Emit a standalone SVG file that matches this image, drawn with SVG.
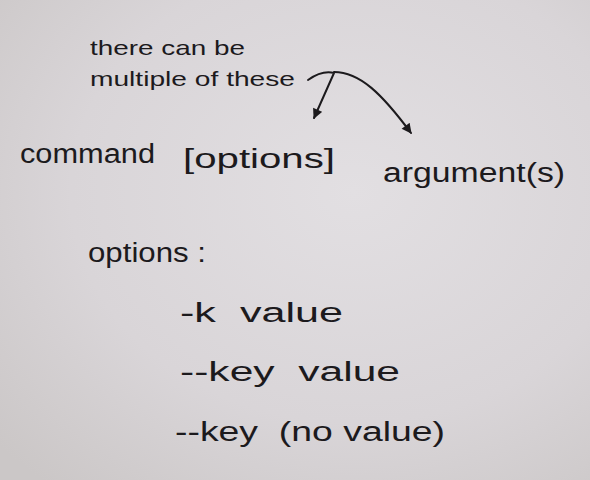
<svg xmlns="http://www.w3.org/2000/svg" width="590" height="480" viewBox="0 0 590 480">
  <defs>
    <radialGradient id="paper" cx="0.6" cy="0.4" r="0.8">
      <stop offset="0" stop-color="#e2dfe2"/>
      <stop offset="0.6" stop-color="#d9d5d8"/>
      <stop offset="1" stop-color="#cbc7c7"/>
    </radialGradient>
    <marker id="head" viewBox="0 0 10 10" refX="9" refY="5" markerWidth="11" markerHeight="10" orient="auto" markerUnits="userSpaceOnUse">
      <path d="M0,0 L10,5 L0,10 z" fill="#1c1a1d"/>
    </marker>
    <style>
      .t { font-family: "Liberation Sans", Arial, sans-serif; fill: #1c1a1d; white-space: pre; }
      .note { font-size: 21px; }
      .big { font-size: 27px; }
      .conn { fill: none; stroke: #1c1a1d; stroke-width: 2; stroke-linecap: round; stroke-linejoin: round; }
    </style>
  </defs>

  <rect width="590" height="480" fill="url(#paper)"/>

  <g id="note">
    <text class="t note" x="90" y="55" textLength="155" lengthAdjust="spacingAndGlyphs">there can be</text>
    <text class="t note" x="90" y="86" textLength="205" lengthAdjust="spacingAndGlyphs">multiple of these</text>
  </g>

  <g id="connectors">
    <path class="conn" d="M308,80 C318,73 326,71 334,73 L314,118" marker-end="url(#head)"/>
    <path class="conn" d="M334,72 C360,72 382,94 411,133" marker-end="url(#head)"/>
  </g>

  <g id="command">
    <text class="t big" x="20" y="163" textLength="135" lengthAdjust="spacingAndGlyphs">command</text>
  </g>
  <g id="options">
    <text class="t big" x="183" y="168" textLength="152" lengthAdjust="spacingAndGlyphs">[options]</text>
  </g>
  <g id="arguments">
    <text class="t big" x="383" y="182" textLength="182" lengthAdjust="spacingAndGlyphs">argument(s)</text>
  </g>

  <g id="options-list">
    <text class="t big" x="88" y="262" textLength="118" lengthAdjust="spacingAndGlyphs">options :</text>
    <text class="t big" x="180" y="322" textLength="163" lengthAdjust="spacingAndGlyphs">-k  value</text>
    <text class="t big" x="180" y="381" textLength="220" lengthAdjust="spacingAndGlyphs">--key  value</text>
    <text class="t big" x="175" y="441" textLength="270" lengthAdjust="spacingAndGlyphs">--key  (no value)</text>
  </g>
</svg>
